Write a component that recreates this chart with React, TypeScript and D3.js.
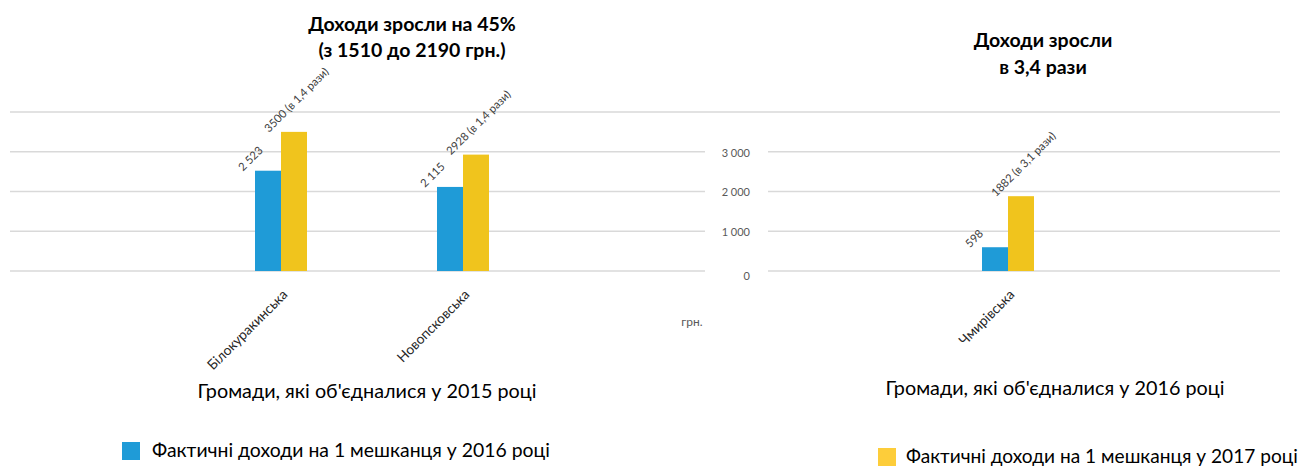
import React from "react";
import * as d3 from "d3";

const categories2015 = ["Білокуракинська", "Новопсковська"];
const values2016_2015 = [2523, 2115];
const values2017_2015 = [3500, 2928];
const labels2016_2015 = ["2 523", "2 115"];
const labels2017_2015 = ["3500 (в 1,4 рази)", "2928 (в 1,4 рази)"];

const categories2016 = ["Чмирівська"];
const values2016_2016 = [598];
const values2017_2016 = [1882];
const labels2016_2016 = ["598"];
const labels2017_2016 = ["1882 (в 3,1 рази)"];

const yTicks = [0, 1000, 2000, 3000, 4000];
const yTickLabels = ["0", "1 000", "2 000", "3 000", ""];

const seriesNames = [
  "Фактичні доходи на 1 мешканця у 2016 році",
  "Фактичні доходи на 1 мешканця у 2017 році",
];

const BLUE = "#1f9bd7";
const YELLOW = "#f0c41d";
const YELLOW_LEG = "#fdcd3a";
const GRID = "#d9d9d9";
const FONT = "Lato, 'Open Sans', sans-serif";

const y = d3.scaleLinear().domain([0, 4000]).range([271, 112]);

type PanelProps = {
  cats: string[];
  v1: number[];
  v2: number[];
  l1: string[];
  l2: string[];
  range: [number, number];
};

function Bars({ cats, v1, v2, l1, l2, range }: PanelProps) {
  const x = d3.scaleBand<string>().domain(cats).range(range).paddingInner(0).paddingOuter(0);
  const inner = d3.scaleBand<number>().domain([0, 1]).range([0, 52]);
  return (
    <g>
      {cats.map((c, i) => {
        const gx = (x(c) as number) + x.bandwidth() / 2 - 26;
        const vals = [v1[i], v2[i]];
        const labs = [l1[i], l2[i]];
        return (
          <g key={c}>
            {vals.map((v, j) => {
              const bx = gx + (inner(j) as number);
              const bw = inner.bandwidth();
              const cx = bx + bw / 2;
              return (
                <g key={j}>
                  <rect x={bx} y={y(v)} width={bw} height={y(0) - y(v)} fill={j === 0 ? BLUE : YELLOW} />
                  <text
                    transform={`translate(${cx - 25},${y(v) + 1}) rotate(-45)`}
                    fontSize={11.3}
                    fill="#404040"
                    fontFamily={FONT}
                  >
                    {labs[j]}
                  </text>
                </g>
              );
            })}
            <text
              transform={`translate(${gx + 26 + 5},${293}) rotate(-45)`}
              textAnchor="end"
              dominantBaseline="middle"
              fontSize={13.8}
              fill="#262626"
              fontFamily={FONT}
            >
              {c}
            </text>
          </g>
        );
      })}
    </g>
  );
}

export default function App() {
  return (
    <svg
      width={1304}
      height={466}
      style={{ position: "absolute", left: 0, top: 0, background: "#fff" }}
      fontFamily={FONT}
    >
      {yTicks.map((t) => (
        <line key={"l" + t} x1={10} x2={705} y1={y(t)} y2={y(t)} stroke={GRID} strokeWidth={1.5} />
      ))}
      {yTicks.map((t) => (
        <line
          key={"r" + t}
          x1={t === 4000 ? 705 : 768}
          x2={1280}
          y1={y(t)}
          y2={y(t)}
          stroke={GRID}
          strokeWidth={1.5}
        />
      ))}
      {yTicks.map((t, i) => (
        <text
          key={"t" + t}
          x={750}
          y={y(t) + (t === 0 ? 6 : 2)}
          textAnchor="end"
          dominantBaseline="middle"
          fontSize={11}
          fill="#595959"
        >
          {yTickLabels[i]}
        </text>
      ))}
      <text x={692} y={323} textAnchor="middle" dominantBaseline="middle" fontSize={12} fill="#595959">
        грн.
      </text>

      <Bars
        cats={categories2015}
        v1={values2016_2015}
        v2={values2017_2015}
        l1={labels2016_2015}
        l2={labels2017_2015}
        range={[190, 554]}
      />
      <Bars
        cats={categories2016}
        v1={values2016_2016}
        v2={values2017_2016}
        l1={labels2016_2016}
        l2={labels2017_2016}
        range={[917, 1099]}
      />

      <text x={412} y={31} textAnchor="middle" fontSize={19.5} fontWeight="bold" fill="#000">
        Доходи зросли на 45%
      </text>
      <text x={412} y={57} textAnchor="middle" fontSize={19.5} fontWeight="bold" fill="#000">
        (з 1510 до 2190 грн.)
      </text>
      <text x={1043} y={47} textAnchor="middle" fontSize={19.5} fontWeight="bold" fill="#000">
        Доходи зросли
      </text>
      <text x={1043} y={74} textAnchor="middle" fontSize={19.5} fontWeight="bold" fill="#000">
        в 3,4 рази
      </text>

      <text x={367} y={393} textAnchor="middle" dominantBaseline="middle" fontSize={19.8} fill="#000">
        Громади, які об'єдналися у 2015 році
      </text>
      <text x={1055} y={390} textAnchor="middle" dominantBaseline="middle" fontSize={19.8} fill="#000">
        Громади, які об'єдналися у 2016 році
      </text>

      <rect x={122} y={442} width={18} height={18} fill={BLUE} />
      <text x={152} y={452} dominantBaseline="middle" fontSize={19.4} fill="#000">
        {seriesNames[0]}
      </text>
      <rect x={878} y={448} width={18} height={18} fill={YELLOW_LEG} />
      <text x={906} y={458} dominantBaseline="middle" fontSize={19.1} fill="#000">
        {seriesNames[1]}
      </text>
    </svg>
  );
}
